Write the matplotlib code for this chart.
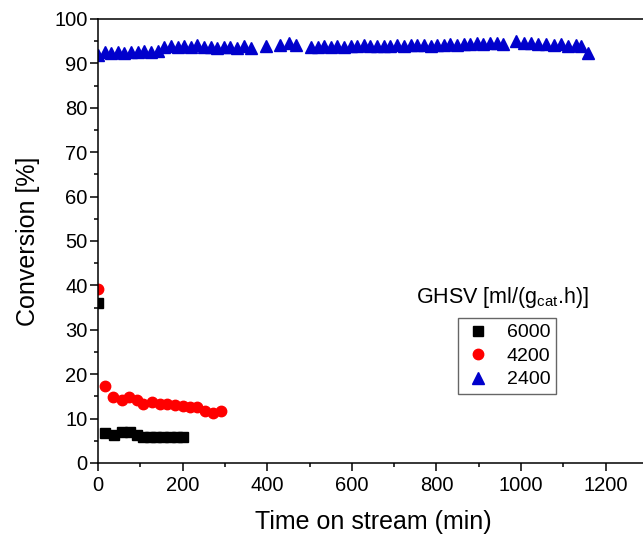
import numpy as np
import matplotlib
matplotlib.use("Agg")
import matplotlib.pyplot as plt

plt.rcParams['font.family'] = ['Liberation Sans', 'DejaVu Sans']
plt.rcParams['mathtext.fontset'] = 'custom'
plt.rcParams['mathtext.rm'] = 'Liberation Sans'
plt.rcParams['mathtext.it'] = 'Liberation Sans'

# GHSV 6000
t_6000 = [0, 17, 38, 56, 75, 91, 107, 123, 138, 154, 170, 186, 201]
c_6000 = [36.0, 6.7, 6.3, 7.0, 7.0, 6.2, 5.8, 5.9, 5.8, 5.9, 5.9, 5.8, 5.8]

# GHSV 4200
t_4200 = [0, 17, 36, 56, 74, 91, 107, 127, 146, 164, 182, 200, 217, 235, 253, 271, 290]
c_4200 = [39.3, 17.3, 14.9, 14.3, 14.8, 14.3, 13.2, 13.7, 13.4, 13.4, 13.1, 12.8,
          12.7, 12.7, 11.8, 11.2, 11.8]

# GHSV 2400
t_2400 = [0, 16, 31, 47, 62, 78, 94, 109, 125, 141,
          157, 172, 188, 203, 219, 235, 250, 266, 282, 297, 313, 329, 345, 362,
          398, 430, 451, 469,
          503, 519, 534, 550, 566, 582, 597, 613, 629, 644, 660, 676, 691, 707, 723,
          739, 754, 770, 786, 801, 817, 833, 848, 864, 880, 895, 911, 927, 942, 958,
          988, 1006, 1024, 1041, 1059, 1077, 1094, 1112, 1130, 1142, 1157]
c_2400 = [92.0, 92.6, 92.4, 92.6, 92.4, 92.6, 92.5, 92.8, 92.6, 92.7,
          93.6, 93.9, 93.7, 94.0, 93.7, 94.1, 93.8, 93.7, 93.5, 93.6, 93.8, 93.4, 93.9, 93.5,
          93.9, 94.1, 94.6, 94.1,
          93.6, 93.8, 93.9, 93.8, 94.0, 93.8, 94.0, 93.9, 94.1, 93.9, 94.0, 94.0, 93.9, 94.1, 94.0,
          94.2, 94.1, 94.2, 94.0, 94.2, 94.1, 94.3, 94.2, 94.4, 94.3, 94.5, 94.4, 94.7, 94.6, 94.4,
          95.0, 94.5, 94.6, 94.3, 94.4, 94.2, 94.3, 94.0, 94.2, 93.9, 92.4]

fig = plt.figure(figsize=(6.43, 5.38), dpi=100)
ax = fig.add_axes([98/643, 1 - 463/538, 550/643, 444/538])

ax.plot(t_6000, c_6000, 's', color='black', markersize=6.5, label='6000')
ax.plot(t_4200, c_4200, 'o', color='#ff0000', markersize=7.5, label='4200')
ax.plot(t_2400, c_2400, '^', color='#0000cc', markersize=8.5, label='2400')

ax.set_xlim(0, 1300)
ax.set_ylim(0, 100)
ax.set_xticks(np.arange(0, 1201, 200))
ax.set_xticks(np.arange(100, 1301, 200), minor=True)
ax.set_yticks(np.arange(0, 101, 10))
ax.set_yticks(np.arange(5, 100, 10), minor=True)
ax.tick_params(which='both', direction='out', width=1.1, labelsize=14.5)
ax.tick_params(which='major', length=6)
ax.tick_params(which='minor', length=3)
ax.tick_params(axis='y', which='major', pad=1.5)
ax.spines['right'].set_visible(False)
for s in ['left', 'bottom', 'top']:
    ax.spines[s].set_linewidth(1.1)

ax.set_xlabel('Time on stream (min)', fontsize=18, labelpad=11)
ax.set_ylabel('Conversion [%]', fontsize=18, labelpad=10)

fig.text(503/643, 1 - 297/538, r'GHSV [ml/(g$_{\mathrm{cat}}$.h)]', fontsize=15.5,
         ha='center', va='center')
leg = ax.legend(loc='upper left', bbox_to_anchor=(458/643, 1 - 318/538),
                bbox_transform=fig.transFigure, borderaxespad=0, fontsize=14,
                fancybox=False, edgecolor='#404040', handletextpad=0.7,
                labelspacing=0.3, handlelength=1.5, borderpad=0.3)
leg.get_frame().set_linewidth(1.0)

fig.savefig('out.png', dpi=100)
